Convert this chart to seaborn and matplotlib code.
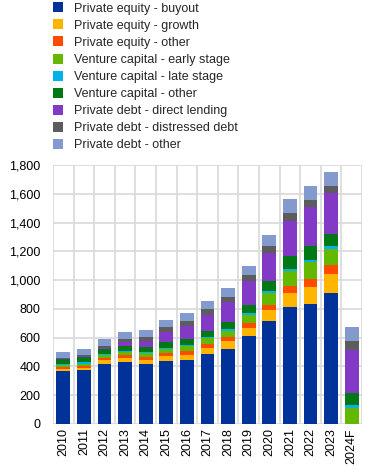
import numpy as np
import pandas as pd
import seaborn as sns
import matplotlib.pyplot as plt
from matplotlib.patches import Patch

sns.set_style("white")
plt.rcParams["font.family"] = ["Liberation Sans", "DejaVu Sans"]

years = ["2010", "2011", "2012", "2013", "2014", "2015", "2016", "2017",
         "2018", "2019", "2020", "2021", "2022", "2023", "2024F"]

series_names = [
    "Private equity - buyout",
    "Private equity - growth",
    "Private equity - other",
    "Venture capital - early stage",
    "Venture capital - late stage",
    "Venture capital - other",
    "Private debt - direct lending",
    "Private debt - distressed debt",
    "Private debt - other",
]

pe_buyout = [368, 375, 417, 431, 417, 438, 445, 487, 521, 611, 715, 813, 833, 910, 0]
pe_growth = [14, 16, 27, 30, 28, 35, 35, 41, 56, 56, 77, 97, 118, 132, 0]
pe_other = [14, 14, 14, 19, 18, 18, 27, 30, 28, 34, 34, 48, 56, 62, 0]
vc_early = [12, 14, 19, 21, 33, 28, 37, 40, 39, 56, 84, 105, 120, 111, 113]
vc_late = [9, 9, 9, 7, 7, 9, 7, 9, 14, 14, 14, 16, 14, 21, 18]
vc_other = [32, 37, 32, 37, 30, 44, 40, 39, 51, 55, 69, 88, 95, 84, 84]
pd_direct = [7, 9, 9, 25, 42, 67, 92, 112, 141, 167, 195, 243, 271, 284, 301]
pd_distressed = [5, 7, 16, 21, 28, 35, 33, 41, 33, 42, 48, 55, 49, 49, 60]
pd_other = [39, 39, 49, 49, 50, 49, 55, 56, 62, 62, 77, 98, 97, 97, 98]

colors = ["#003299", "#ffb400", "#ff4b00", "#65b800", "#00b1ea",
          "#007816", "#8139c6", "#5c5c5c", "#829acd"]

values = [pe_buyout, pe_growth, pe_other, vc_early, vc_late, vc_other,
          pd_direct, pd_distressed, pd_other]

df = pd.DataFrame(dict(zip(series_names, values)), index=years)
cum = df.cumsum(axis=1)

fig = plt.figure(figsize=(3.72, 4.73), dpi=100)
ax = fig.add_axes([0.1425, 0.1036, 0.8305, 0.5475])

# draw cumulative totals from the top layer down so lower layers overdraw
for name, col in zip(series_names[::-1], colors[::-1]):
    sns.barplot(x=years, y=cum[name].values, color=col, width=0.67,
                saturation=1, ax=ax, zorder=3, linewidth=0, edgecolor="none")

ax.set_xlim(-0.5, len(years) - 0.5)
ax.set_ylim(0, 1800)
ax.set_yticks(np.arange(0, 1801, 200))
ax.set_yticklabels([f"{v:,}" for v in range(0, 1801, 200)])
ax.set_xticks(np.arange(-0.5, len(years), 1), minor=True)
ax.grid(True, axis="y", which="major", color="#d9d9d9", linewidth=1.2, zorder=0)
ax.grid(True, axis="x", which="minor", color="#d9d9d9", linewidth=1.2, zorder=0)
ax.grid(False, axis="x", which="major")
ax.set_axisbelow(True)
for s in ax.spines.values():
    s.set_visible(False)
ax.tick_params(axis="both", which="both", length=0, labelsize=9, colors="#000000")
ax.tick_params(axis="x", pad=3, labelrotation=90)
ax.tick_params(axis="y", pad=9)
ax.set_xlabel("")
ax.set_ylabel("")

handles = [Patch(facecolor=c, edgecolor="none") for c in colors]
fig.legend(handles, series_names, loc="upper left",
           bbox_to_anchor=(0.142, 0.995), frameon=False, fontsize=9,
           handlelength=0.85, handleheight=0.85, handletextpad=0.85,
           labelspacing=0.38, borderpad=0, borderaxespad=0)

fig.savefig("out.png", dpi=100)
